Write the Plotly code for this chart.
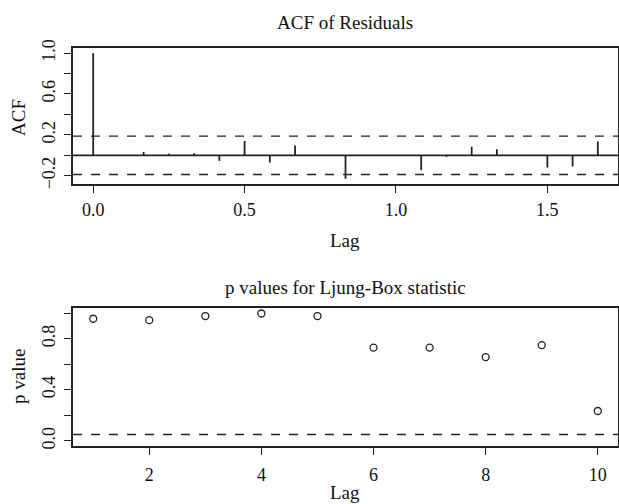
import plotly.graph_objects as go

# ---- data ----
acf_lag_index = list(range(21))          # lags in months
frequency = 12
acf_values = [1.0, -0.004, 0.032, 0.016, 0.02, -0.055, 0.14, -0.07, 0.097, 0.004,
              -0.23, 0.006, -0.003, -0.146, -0.016, 0.084, 0.058, 0.005, -0.12, -0.11, 0.136]
ci_bound = 0.188

lb_lags = [1, 2, 3, 4, 5, 6, 7, 8, 9, 10]
lb_pvalues = [0.956, 0.945, 0.977, 0.997, 0.977, 0.73, 0.73, 0.656, 0.75, 0.234]
p_threshold = 0.05

acf_x_ticks = [0.0, 0.5, 1.0, 1.5]
acf_x_text = ["0.0", "0.5", "1.0", "1.5"]
acf_y_ticks = [-0.2, 0.0, 0.2, 0.4, 0.6, 0.8, 1.0]
acf_y_text = ["\u22120.2", "", "0.2", "", "0.6", "", "1.0"]
lb_x_ticks = [2, 4, 6, 8, 10]
lb_y_ticks = [0.0, 0.2, 0.4, 0.6, 0.8, 1.0]
lb_y_text = ["0.0", "", "0.4", "", "0.8", ""]

FONT = "Liberation Serif"
INK = "#222222"
W, H = 619, 504

lags = [k / frequency for k in acf_lag_index]
sx, sy = [], []
for l, v in zip(lags, acf_values):
    sx += [l, l, None]
    sy += [0, v, None]

fig = go.Figure()
fig.add_trace(go.Scatter(x=sx, y=sy, mode="lines", line=dict(color=INK, width=1.8),
                         xaxis="x", yaxis="y", hoverinfo="skip", showlegend=False))
fig.add_trace(go.Scatter(x=lb_lags, y=lb_pvalues, mode="markers",
                         marker=dict(symbol="circle-open", size=7, color=INK,
                                     line=dict(width=1.3, color=INK)),
                         xaxis="x2", yaxis="y2", showlegend=False))

def px_dom_x(a, b):
    return [a / W, b / W]

def px_dom_y(top, bottom):
    return [1 - bottom / H, 1 - top / H]

axis_common = dict(showline=True, linecolor=INK, linewidth=1.5, mirror=True,
                   ticks="outside", ticklen=7, tickcolor=INK, tickwidth=1.3,
                   showgrid=False, zeroline=False,
                   tickfont=dict(family=FONT, size=18, color="#111111"))

fig.update_layout(
    width=W, height=H, margin=dict(l=0, r=0, t=0, b=0, autoexpand=False),
    plot_bgcolor="white", paper_bgcolor="white",
    xaxis=dict(domain=px_dom_x(73, 618), anchor="y", range=[-0.0667, 1.7333],
               tickvals=acf_x_ticks, ticktext=acf_x_text, ticklabelstandoff=2, **axis_common),
    yaxis=dict(domain=px_dom_y(48, 184), anchor="x", range=[-0.281, 1.05],
               tickvals=acf_y_ticks, ticktext=acf_y_text, tickangle=-90,
               ticklabelstandoff=2, **axis_common),
    xaxis2=dict(domain=px_dom_x(73, 618), anchor="y2", range=[0.64, 10.36],
                tickvals=lb_x_ticks, ticklabelstandoff=5, **axis_common),
    yaxis2=dict(domain=px_dom_y(308, 446), anchor="x2", range=[-0.04, 1.04],
                tickvals=lb_y_ticks, ticktext=lb_y_text, tickangle=-90,
                ticklabelstandoff=2, **axis_common),
    shapes=[
        dict(type="line", xref="x domain", yref="y", x0=0, x1=1, y0=0, y1=0,
             line=dict(color=INK, width=1.8)),
        dict(type="line", xref="x domain", yref="y", x0=0, x1=1, y0=ci_bound, y1=ci_bound,
             line=dict(color=INK, width=1.3, dash="dash")),
        dict(type="line", xref="x domain", yref="y", x0=0, x1=1, y0=-ci_bound, y1=-ci_bound,
             line=dict(color=INK, width=1.3, dash="dash")),
        dict(type="line", xref="x2 domain", yref="y2", x0=0, x1=1, y0=p_threshold, y1=p_threshold,
             line=dict(color=INK, width=1.3, dash="dash")),
    ],
)

def ann(text, x, y, size=19, angle=0):
    fig.add_annotation(text=text, x=x / W, y=1 - y / H, xref="paper", yref="paper",
                       showarrow=False, textangle=angle, xanchor="center", yanchor="middle",
                       font=dict(family=FONT, size=size, color="#111111"))

ann("ACF of Residuals", 345, 23)
ann("Lag", 345, 240)
ann("ACF", 18, 118, angle=-90)
ann("p values for Ljung-Box statistic", 345, 287)
ann("Lag", 345, 492)
ann("p value", 18, 377, angle=-90)

fig.write_html("out.html", config={"displayModeBar": False},
               post_script="document.body.style.margin='0';document.body.style.overflow='hidden';")
